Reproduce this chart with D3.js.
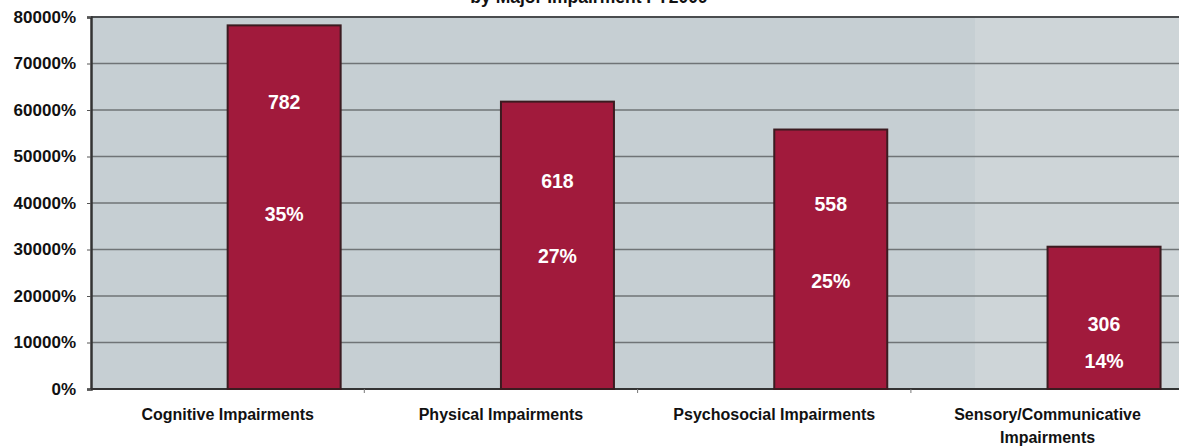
<!DOCTYPE html>
<html><head><meta charset="utf-8">
<script src="https://cdn.jsdelivr.net/npm/d3@7"></script>
<style>
html,body{margin:0;padding:0;background:#fff;}
svg{display:block;font-family:"Liberation Sans",Arial,sans-serif;}
</style></head>
<body>
<svg id="c" width="1179" height="447"></svg>
<script>
// ---- data ----
const categories = ["Cognitive Impairments", "Physical Impairments", "Psychosocial Impairments", "Sensory/Communicative Impairments"];
const counts = [782, 618, 558, 306];
const shares = ["35%", "27%", "25%", "14%"];
const yTicks = [0, 100, 200, 300, 400, 500, 600, 700, 800];
const title = "by Major Impairment FY2009";

// ---- layout ----
const svg = d3.select("#c");
const M = {left: 91, top: 17, bottom: 389};
const bandW = 273.3;
const x = d3.scaleBand().domain(categories).range([M.left, M.left + bandW * categories.length]).paddingInner(0).paddingOuter(0);
const y = d3.scaleLinear().domain([0, 800]).range([M.bottom, M.top]);
const barW = 113;

// title (clipped at top, as in the reference)
svg.append("text").attr("x", 589).attr("y", 3).attr("text-anchor", "middle")
  .attr("font-size", 17.5).attr("font-weight", "bold").attr("fill", "#111").text(title);

// plot background
svg.append("rect").attr("x", M.left).attr("y", M.top).attr("width", 1179 - M.left).attr("height", M.bottom - M.top).attr("fill", "#c6cfd3");
svg.append("rect").attr("x", 975).attr("y", M.top).attr("width", 1179 - 975).attr("height", M.bottom - M.top).attr("fill", "#ced5d8");

// gridlines
svg.append("g").selectAll("line").data(yTicks.filter(d => d > 0)).join("line")
  .attr("x1", M.left).attr("x2", 1179).attr("y1", d => y(d)).attr("y2", d => y(d))
  .attr("stroke", d => d === 800 ? "#4a4d4f" : "#6f7476").attr("stroke-width", d => d === 800 ? 2 : 1.3);

// y axis
const ya = svg.append("g").attr("transform", `translate(${M.left},0)`)
  .call(d3.axisLeft(y).tickValues(yTicks).tickSize(4).tickFormat(d => (d * 100) + "%"));
ya.select(".domain").attr("stroke", "#333").attr("stroke-width", 2.5);
ya.selectAll(".tick line").attr("stroke", "#555");
ya.selectAll(".tick text").attr("font-size", 17).attr("font-weight", "bold").attr("fill", "#111")
  .attr("font-family", "'Liberation Sans',Arial,sans-serif").attr("x", -15);

// x axis
const xa = svg.append("g").attr("transform", `translate(0,${M.bottom})`)
  .call(d3.axisBottom(x).tickSize(0).tickFormat(""));
xa.select(".domain").attr("stroke", "#333").attr("stroke-width", 2).attr("d", `M${M.left},0H1179`);
svg.append("g").selectAll("line").data(categories.slice(1)).join("line")
  .attr("x1", d => x(d)).attr("x2", d => x(d)).attr("y1", M.bottom).attr("y2", M.bottom + 4)
  .attr("stroke", "#777").attr("stroke-width", 1);

// x labels
const lblLines = [["Cognitive Impairments"], ["Physical Impairments"], ["Psychosocial Impairments"], ["Sensory/Communicative", "Impairments"]];
svg.append("g").selectAll("text").data(categories).join("text")
  .attr("x", d => x(d) + x.bandwidth() / 2).attr("y", 420).attr("text-anchor", "middle")
  .attr("font-size", 16).attr("font-weight", "bold").attr("fill", "#111")
  .each(function(d, i) {
    d3.select(this).selectAll("tspan").data(lblLines[i]).join("tspan")
      .attr("x", x(d) + x.bandwidth() / 2).attr("dy", (t, j) => j === 0 ? 0 : 23).text(t => t);
  });

// bars (second series; right half of each band)
const bx = d => x(d) + x.bandwidth() / 2;
svg.append("g").selectAll("rect").data(categories).join("rect")
  .attr("x", d => bx(d)).attr("width", barW)
  .attr("y", (d, i) => y(counts[i])).attr("height", (d, i) => y(0) - y(counts[i]))
  .attr("fill", "#a11a3c").attr("stroke", "#3b1b20").attr("stroke-width", 2);

// in-bar labels
const countOffset = [77, 79, 74, 77];
const pctY = [214, 256, 281, 361];
const lab = svg.append("g").attr("font-size", 19.5).attr("font-weight", "bold").attr("fill", "#fff").attr("text-anchor", "middle");
lab.selectAll("text.n").data(categories).join("text").attr("class", "n")
  .attr("x", d => bx(d) + barW / 2).attr("y", (d, i) => y(counts[i]) + countOffset[i] + 7).text((d, i) => counts[i]);
lab.selectAll("text.p").data(categories).join("text").attr("class", "p")
  .attr("x", d => bx(d) + barW / 2).attr("y", (d, i) => pctY[i] + 7).text((d, i) => shares[i]);
</script>
</body></html>
